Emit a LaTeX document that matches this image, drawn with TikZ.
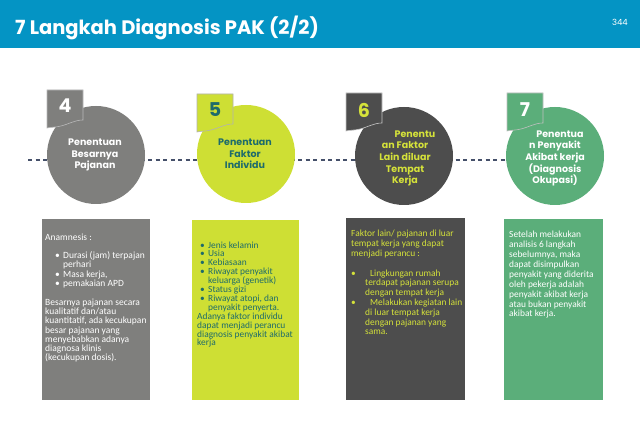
\documentclass[tikz,border=0pt]{standalone}
\usepackage{fontspec}
\setmainfont{Carlito}
\newfontfamily\headfont{Poppins}
\definecolor{hdr}{HTML}{0494C4}
\definecolor{cgray}{HTML}{7F7F7D}
\definecolor{clime}{HTML}{CEDF34}
\definecolor{cdark}{HTML}{4D4D4D}
\definecolor{cgreen}{HTML}{5BAE7A}
\definecolor{cteal}{HTML}{1E6B6B}
\definecolor{tlime}{HTML}{D5E23A}
\definecolor{dashc}{HTML}{45506A}
\tikzset{
  stepcircle/.style={circle, minimum size=98pt, inner sep=0pt},
  circtext/.style={align=center, anchor=base, inner sep=0pt,
    font=\headfont\bfseries\fontsize{9.5}{11.7}\selectfont},
  numtext/.style={anchor=base, inner sep=0pt,
    font=\headfont\bfseries\fontsize{19}{21}\selectfont},
  infobox/.style={rectangle, inner sep=0pt, anchor=north west},
  boxtext/.style={align=left, anchor=base west, inner sep=0pt,
    font=\fontsize{9.5}{9.3}\selectfont},
  numtag/.pic={
    \path[pic actions] (0,0) -- (36,0) -- (36,30)
      .. controls (28,30) and (22,34) .. (14,36)
      .. controls (8,37.5) and (4,37) .. (0,38) -- cycle;
  }
}
\newcommand{\bul}{\makebox[8pt][l]{•}}
\begin{document}
\begin{tikzpicture}[x=1pt,y=-1pt]
\useasboundingbox (0,0) rectangle (640,443);
\fill[white] (0,0) rectangle (640,443);
\fill[hdr] (0,0) rectangle (640,48);
\node[anchor=base west, inner sep=0pt, text=white,
  font=\headfont\bfseries\fontsize{19.5}{23}\selectfont] (title) at (15,35) {7 Langkah Diagnosis PAK (2/2)};
\node[anchor=base east, inner sep=0pt, text=white,
  font=\headfont\fontsize{8.5}{10}\selectfont] (page) at (628,26) {344};

% dashed connector
\coordinate (lstart) at (28,160);
\coordinate (lend) at (555,160);
\draw[dashc, line width=1.1pt, dash pattern=on 4pt off 3.5pt] (lstart) -- (lend);

% circles
\node[stepcircle, fill=cgray] (c1) at (96,155) {};
\node[stepcircle, fill=clime] (c2) at (246,154) {};
\node[stepcircle, fill=cdark] (c3) at (404,156) {};
\node[stepcircle, fill=cgreen] (c4) at (555,156) {};

% tags
\pic[fill=cgray, draw=gray!55, line width=0.6pt] at (47,90) {numtag};
\pic[fill=clime, draw=gray!60, line width=0.6pt] at (197,94) {numtag};
\pic[fill=cdark, draw=gray!45, line width=0.6pt] at (346,93) {numtag};
\pic[fill=cgreen, draw=gray!50, line width=0.6pt] at (507,93) {numtag};

\node[numtext, text=white] (n4) at (65,113) {4};
\node[numtext, text=cteal] (n5) at (215,117) {5};
\node[numtext, text=tlime] (n6) at (364,118) {6};
\node[numtext, text=white] (n7) at (525,117) {7};

% circle texts (anchor base = last line)
\node[circtext, text=white] (t1) at (95,169) {Penentuan\\Besarnya\\Pajanan};
\node[circtext, text=cteal] (t2) at (245,169) {Penentuan\\Faktor\\Individu};
\node[circtext, text=tlime] (t3) at (405,184) {\hspace*{20pt}Penentu\\an Faktor\\Lain diluar\\Tempat\\Kerja};
\node[circtext, text=white] (t4) at (555,184) {\hspace*{10pt}Penentua\\n Penyakit\\Akibat kerja\\(Diagnosis\\Okupasi)};

% boxes
\node[infobox, fill=cgray, minimum width=108pt, minimum height=181pt] (b1) at (42,219) {};
\node[infobox, fill=clime, minimum width=107pt, minimum height=180pt] (b2) at (192,220) {};
\node[infobox, fill=cdark, minimum width=119pt, minimum height=182pt] (b3) at (346,218) {};
\node[infobox, fill=cgreen, minimum width=99pt, minimum height=181pt] (b4) at (504,219) {};

% box texts (anchor base = last line)
\node[boxtext, text=white] (bt1) at (45,361) {Anamnesis :\\[9.3pt]
\hspace*{10pt}\bul Durasi (jam) terpajan\\
\hspace*{18pt}perhari\\
\hspace*{10pt}\bul Masa kerja,\\
\hspace*{10pt}\bul pemakaian APD\\[9.3pt]
Besarnya pajanan secara\\
kualitatif dan/atau\\
kuantitatif, ada kecukupan\\
besar pajanan yang\\
menyebabkan adanya\\
diagnosa klinis\\
(kecukupan dosis).};

\node[boxtext, text=cteal, font=\fontsize{9.4}{8.9}\selectfont] (bt2) at (197,346) {\hspace*{3pt}\bul Jenis kelamin\\
\hspace*{3pt}\bul Usia\\
\hspace*{3pt}\bul Kebiasaan\\
\hspace*{3pt}\bul Riwayat penyakit\\
\hspace*{11pt}keluarga (genetik)\\
\hspace*{3pt}\bul Status gizi\\
\hspace*{3pt}\bul Riwayat atopi, dan\\
\hspace*{11pt}penyakit penyerta.\\
Adanya faktor individu\\
dapat menjadi perancu\\
diagnosis penyakit akibat\\
kerja};

\node[boxtext, text=tlime, font=\fontsize{9.4}{9.8}\selectfont] (bt3) at (351,335) {Faktor lain/ pajanan di luar\\
tempat kerja yang dapat\\
menjadi perancu :\\[9.8pt]
\makebox[19pt][l]{•}Lingkungan rumah\\
\hspace*{14pt}terdapat pajanan serupa\\
\hspace*{14pt}dengan tempat kerja\\
\makebox[19pt][l]{•}Melakukan kegiatan lain\\
\hspace*{14pt}di luar tempat kerja\\
\hspace*{14pt}dengan pajanan yang\\
\hspace*{14pt}sama.};

\node[boxtext, text=white, font=\fontsize{9.4}{9.9}\selectfont] (bt4) at (509,317) {Setelah melakukan\\
analisis 6 langkah\\
sebelumnya, maka\\
dapat disimpulkan\\
penyakit yang diderita\\
oleh pekerja adalah\\
penyakit akibat kerja\\
atau bukan penyakit\\
akibat kerja.};
\end{tikzpicture}
\end{document}
